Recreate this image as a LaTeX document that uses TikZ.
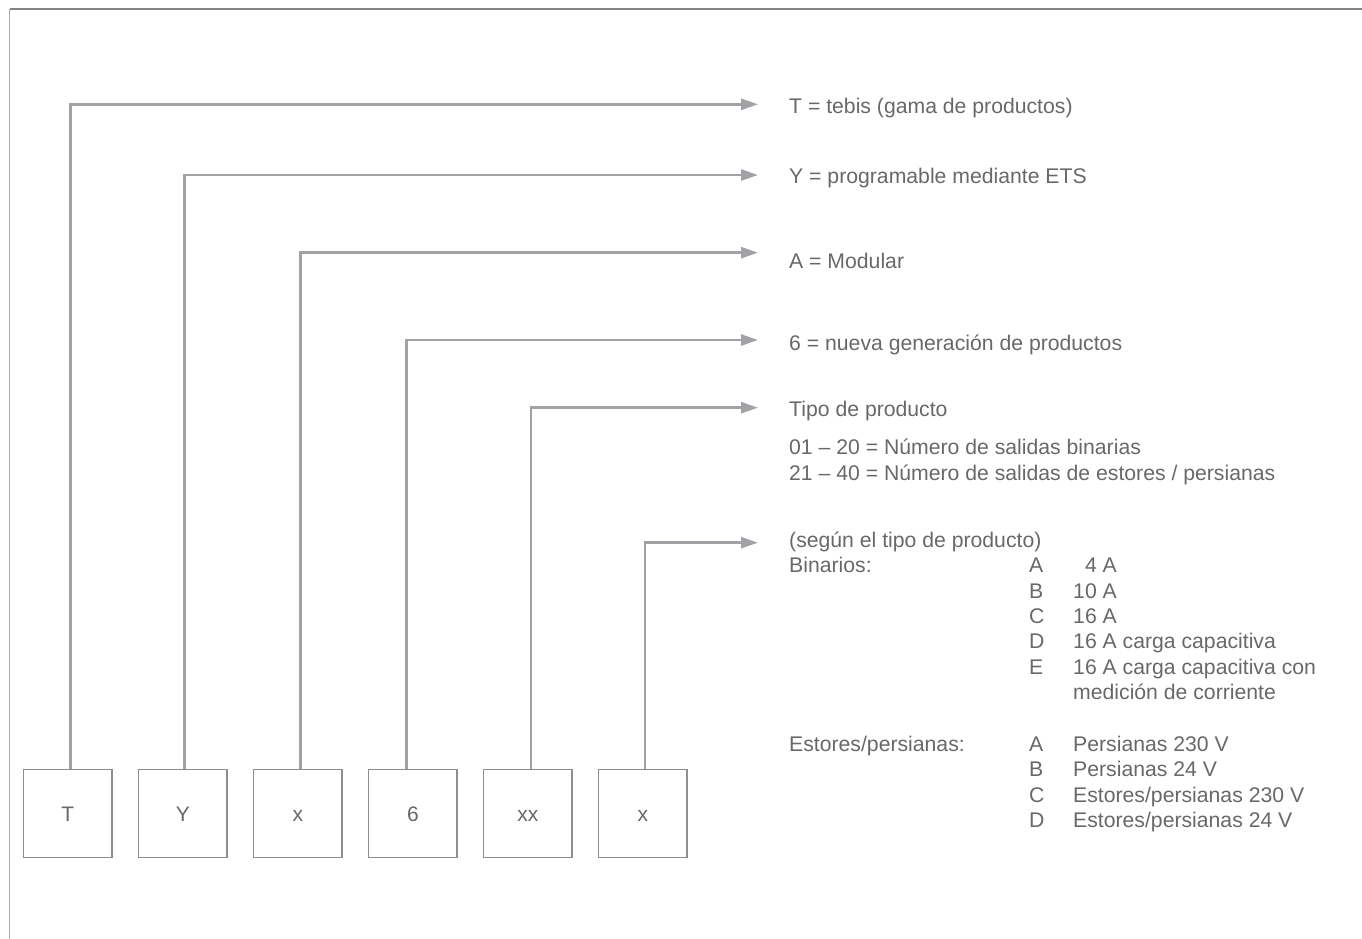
\documentclass[tikz,border=0pt]{standalone}
\usepackage{fontspec}
\setmainfont{Liberation Sans}
\usetikzlibrary{arrows.meta}
\definecolor{txt}{HTML}{686868}
\definecolor{lin}{HTML}{A2A2A6}
\definecolor{boxc}{HTML}{8E8E8E}
\definecolor{frtop}{HTML}{858585}
\definecolor{frleft}{HTML}{ABABAB}
\tikzset{
  digbox/.style={draw=boxc, line width=1.5pt, minimum width=88.4pt, minimum height=88.4pt, inner sep=0pt, text=txt, text height=15pt, text depth=0pt, font=\fontsize{21}{25}\selectfont},
  conn/.style={draw=lin, line width=2.6pt, -{Triangle[length=17pt,width=11pt]}},
  lab/.style={anchor=base west, inner sep=0pt, text=txt, font=\fontsize{21.2}{25.3}\selectfont}
}
\begin{document}
\begin{tikzpicture}[x=1pt,y=-1pt]
\useasboundingbox (0,0) rectangle (1362,939);
% frame
\draw[frtop, line width=1.6pt] (9.5,9.3) -- (1362,9.3);
\draw[frleft, line width=1.6pt] (9.5,9.3) -- (9.5,939);
% boxes
\node[digbox] (bT)  at (67.9,813.5)  {T};
\node[digbox] (bY)  at (182.9,813.5) {Y};
\node[digbox] (bX)  at (297.9,813.5) {x};
\node[digbox] (b6)  at (412.9,813.5) {6};
\node[digbox] (bXX) at (527.9,813.5) {xx};
\node[digbox] (bX2) at (642.9,813.5) {x};
% arrow tips
\coordinate (t1) at (758,104.3);
\coordinate (t2) at (758,175);
\coordinate (t3) at (758,252.7);
\coordinate (t4) at (758,340);
\coordinate (t5) at (758,407.7);
\coordinate (t6) at (758,542.7);
% connectors
\draw[conn] ([xshift=2.4pt]bT.north) |- (t1);
\draw[conn] ([xshift=1.4pt]bY.north) |- (t2);
\draw[conn] ([xshift=2.6pt]bX.north) |- (t3);
\draw[conn] ([xshift=-6.2pt]b6.north) |- (t4);
\draw[conn] ([xshift=3.1pt]bXX.north) |- (t5);
\draw[conn] ([xshift=2.1pt]bX2.north) |- (t6);
% labels
\node[lab] (l1) at (789,113.5) {T = tebis (gama de productos)};
\node[lab] (l2) at (789,183.5) {Y = programable mediante ETS};
\node[lab] (l3) at (789,268.5) {A = Modular};
\node[lab] (l4) at (789,350.5) {6 = nueva generación de productos};
\node[lab] (l5) at (789,416.5) {Tipo de producto};
\node[lab] (l6) at (789,454.5) {01 – 20 = Número de salidas binarias};
\node[lab] (l7) at (789,480.5) {21 – 40 = Número de salidas de estores / persianas};
\node[lab] (l8) at (789,547.5) {(según el tipo de producto)};
\node[lab] (bin) at (789,572.8) {Binarios:};
\node[lab] (ba) at (1029,572.8) {A};
\node[lab] (bav) at (1073,572.8) {\hphantom{1}4 A};
\node[lab] (bb) at (1029,598.1) {B};
\node[lab] (bbv) at (1073,598.1) {10 A};
\node[lab] (bc) at (1029,623.4) {C};
\node[lab] (bcv) at (1073,623.4) {16 A};
\node[lab] (bd) at (1029,648.7) {D};
\node[lab] (bdv) at (1073,648.7) {16 A carga capacitiva};
\node[lab] (be) at (1029,674) {E};
\node[lab] (bev) at (1073,674) {16 A carga capacitiva con};
\node[lab] (bev2) at (1073,699.3) {medición de corriente};
\node[lab] (est) at (789,751.5) {Estores/persianas:};
\node[lab] (ea) at (1029,751.5) {A};
\node[lab] (eav) at (1073,751.5) {Persianas 230 V};
\node[lab] (eb) at (1029,776.8) {B};
\node[lab] (ebv) at (1073,776.8) {Persianas 24 V};
\node[lab] (ec) at (1029,802.1) {C};
\node[lab] (ecv) at (1073,802.1) {Estores/persianas 230 V};
\node[lab] (ed) at (1029,827.4) {D};
\node[lab] (edv) at (1073,827.4) {Estores/persianas 24 V};
\end{tikzpicture}
\end{document}
